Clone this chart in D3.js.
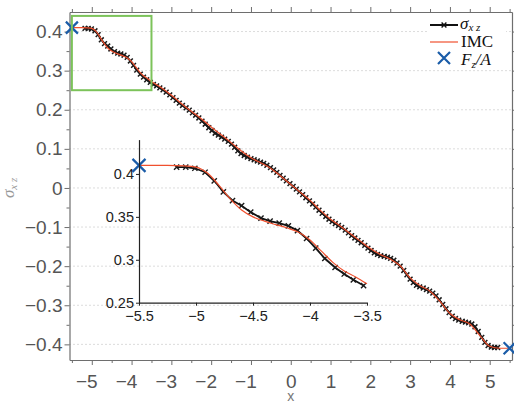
<!DOCTYPE html>
<html>
<head>
<meta charset="utf-8">
<script src="https://cdn.jsdelivr.net/npm/d3@7/dist/d3.min.js"></script>
<style>
  html, body { margin: 0; padding: 0; background: #fff; }
  svg { display: block; }
</style>
</head>
<body>
<svg id="chart" width="514" height="404"></svg>
<script>
// ---------------- DATA ----------------
const sigmaX = [
  -5.17,-5.09,-5.01,-4.92,-4.84,-4.76,-4.68,-4.60,-4.52,-4.43,-4.35,-4.27,-4.19,-4.11,-4.03,-3.95,-3.87,-3.78,-3.70,-3.62,-3.53,
  -3.45,-3.37,-3.29,-3.21,-3.13,-3.04,-2.96,-2.88,-2.80,-2.72,-2.63,-2.55,-2.47,-2.39,-2.31,-2.23,-2.15,-2.06,-1.98,-1.90,
  -1.82,-1.74,-1.66,-1.57,-1.49,-1.41,-1.33,-1.25,-1.17,-1.09,-1.00,-0.92,-0.84,-0.76,-0.68,-0.60,-0.51,-0.43,-0.35,-0.27,
  -0.19,-0.11,-0.02,0.06,0.14,0.22,0.30,0.38,0.47,0.55,0.63,0.71,0.79,0.88,0.96,1.04,1.12,1.20,1.28,1.37,1.45,1.53,1.61,
  1.69,1.77,1.86,1.94,2.02,2.10,2.18,2.26,2.35,2.43,2.51,2.59,2.67,2.75,2.84,2.92,3.00,3.08,3.16,3.24,3.33,3.41,3.49,3.57,
  3.65,3.73,3.82,3.90,3.98,4.06,4.14,4.22,4.31,4.39,4.47,4.55,4.63,4.71,4.80,4.88,4.96,5.04,5.12,5.20
];
const sigmaY = [
  0.408,0.408,0.4066,0.402,0.392,0.379,0.369,0.363,0.3555,0.3485,0.345,0.3427,0.3395,0.334,0.3248,0.3136,0.3015,0.291,0.2834,0.2767,0.270,
  0.265,0.261,0.256,0.251,0.245,0.238,0.231,0.224,0.217,0.211,0.205,0.199,0.192,0.186,0.179,0.171,0.163,0.154,0.147,0.140,
  0.135,0.130,0.125,0.119,0.112,0.104,0.095,0.088,0.083,0.079,0.075,0.072,0.069,0.066,0.063,0.058,0.052,0.046,0.040,0.032,
  0.025,0.018,0.011,0.004,-0.003,-0.010,-0.017,-0.025,-0.033,-0.041,-0.049,-0.057,-0.065,-0.073,-0.080,-0.086,-0.091,-0.096,-0.101,-0.108,-0.115,-0.122,-0.128,
  -0.134,-0.140,-0.147,-0.154,-0.160,-0.166,-0.170,-0.173,-0.175,-0.177,-0.180,-0.185,-0.192,-0.200,-0.211,-0.222,-0.233,-0.242,-0.249,-0.253,-0.256,-0.260,-0.264,-0.269,
  -0.276,-0.286,-0.298,-0.309,-0.319,-0.328,-0.334,-0.338,-0.341,-0.343,-0.345,-0.348,-0.355,-0.367,-0.382,-0.395,-0.403,-0.407,-0.408,-0.408
];
const imcX = [
  -5.50,-5.25,-5.10,-5.00,-4.90,-4.80,-4.70,-4.60,-4.50,-4.40,-4.30,-4.20,-4.10,-4.00,-3.90,-3.80,-3.70,-3.60,-3.50,
  -3.25,-3.00,-2.75,-2.50,-2.25,-2.00,-1.75,-1.50,-1.25,-1.00,-0.75,-0.50,-0.25,0.00,0.25,0.50,0.75,1.00,1.25,1.50,1.75,
  2.00,2.25,2.50,2.75,3.00,3.25,3.50,3.75,4.00,4.25,4.50,4.75,5.00,5.25,5.50
];
const imcY = [
  0.410,0.410,0.4095,0.408,0.401,0.387,0.371,0.358,0.350,0.345,0.341,0.337,0.332,0.323,0.310,0.297,0.287,0.280,0.272,
  0.256,0.237,0.216,0.196,0.177,0.156,0.136,0.116,0.095,0.077,0.064,0.050,0.030,0.009,-0.012,-0.033,-0.058,-0.080,-0.098,-0.117,-0.136,
  -0.155,-0.170,-0.182,-0.199,-0.230,-0.250,-0.264,-0.290,-0.321,-0.337,-0.348,-0.377,-0.405,-0.410,-0.410
];
const fzaX = [-5.5, 5.5];
const fzaY = [0.41, -0.41];

const xTicks = [-5,-4,-3,-2,-1,0,1,2,3,4,5];
const xMinor = [-5.5,-4.5,-3.5,-2.5,-1.5,-0.5,0.5,1.5,2.5,3.5,4.5,5.5];
const yTicks = [-0.4,-0.3,-0.2,-0.1,0,0.1,0.2,0.3,0.4];
const yMinor = [-0.35,-0.25,-0.15,-0.05,0.05,0.15,0.25,0.35];
const insetXTicks = [-5.5,-5,-4.5,-4,-3.5];
const insetYTicks = [0.25,0.3,0.35,0.4];
const zoomBoxX = [-5.5, -3.5];
const zoomBoxY = [0.25, 0.44];

// ---------------- LAYOUT ----------------
const svg = d3.select("#chart");
const sansFont = "'Liberation Sans', Arial, Helvetica, sans-serif";
const serifFont = "'Liberation Serif', 'Times New Roman', serif";
const axisGray = "#6e6e6e";
const labelGray = "#555";

const x = d3.scaleLinear().domain([-5.56, 5.56]).range([69.5, 512]);
const y = d3.scaleLinear().domain([-0.44, 0.45]).range([360, 12]);

const ix = d3.scaleLinear().domain([-5.5, -3.5]).range([139, 367]);
const iy = d3.scaleLinear().domain([0.25, 0.44]).range([302.7, 139.6]);

const fmt = v => (v < 0 ? "\u2212" : "") + String(+Math.abs(v).toFixed(2));

const sigma = sigmaX.map((d, i) => ({x: d, y: sigmaY[i]}));
const imc = imcX.map((d, i) => ({x: d, y: imcY[i]}));
const fza = fzaX.map((d, i) => ({x: d, y: fzaY[i]}));

// grid
svg.append("g").selectAll("line").data(yTicks).join("line")
  .attr("x1", x.range()[0]).attr("x2", x.range()[1])
  .attr("y1", d => y(d)).attr("y2", d => y(d))
  .attr("stroke", "#b8b8b8").attr("stroke-width", 1)
  .attr("stroke-dasharray", "1,3");

function styleAxis(g, color, fontSize, family, fill) {
  g.select(".domain").attr("stroke", color).attr("stroke-width", 1.2);
  g.selectAll(".tick line").attr("stroke", color).attr("stroke-width", 1);
  g.selectAll(".tick text").attr("font-size", fontSize).attr("font-family", family).attr("fill", fill);
}

const H = y.range()[0], T = y.range()[1], L = x.range()[0], R = x.range()[1];

// bottom
const gb = svg.append("g").attr("transform", `translate(0,${H})`)
  .call(d3.axisBottom(x).tickValues(xTicks).tickSize(5).tickSizeOuter(0).tickPadding(10).tickFormat(fmt));
styleAxis(gb, axisGray, 19, sansFont, labelGray);
gb.selectAll(".tick text").attr("text-anchor", "end").attr("x", 5.3);
svg.append("g").attr("transform", `translate(0,${H})`)
  .call(d3.axisBottom(x).tickValues(xMinor).tickSize(3).tickSizeOuter(0).tickFormat(""))
  .call(g => { g.select(".domain").remove(); g.selectAll(".tick line").attr("stroke", axisGray); });
// top
const gt = svg.append("g").attr("transform", `translate(0,${T})`)
  .call(d3.axisTop(x).tickValues(xTicks).tickSize(5).tickSizeOuter(0).tickFormat(""));
styleAxis(gt, axisGray, 18, sansFont, labelGray);
svg.append("g").attr("transform", `translate(0,${T})`)
  .call(d3.axisTop(x).tickValues(xMinor).tickSize(3).tickSizeOuter(0).tickFormat(""))
  .call(g => { g.select(".domain").remove(); g.selectAll(".tick line").attr("stroke", axisGray); });
// left
const gl = svg.append("g").attr("transform", `translate(${L},0)`)
  .call(d3.axisLeft(y).tickValues(yTicks).tickSize(5).tickSizeOuter(0).tickPadding(2).tickFormat(fmt));
styleAxis(gl, axisGray, 19, sansFont, labelGray);
svg.append("g").attr("transform", `translate(${L},0)`)
  .call(d3.axisLeft(y).tickValues(yMinor).tickSize(3).tickSizeOuter(0).tickFormat(""))
  .call(g => { g.select(".domain").remove(); g.selectAll(".tick line").attr("stroke", axisGray); });
// right
const gr = svg.append("g").attr("transform", `translate(${R},0)`)
  .call(d3.axisRight(y).tickValues(yTicks).tickSize(5).tickSizeOuter(0).tickFormat(""));
styleAxis(gr, axisGray, 18, sansFont, labelGray);
svg.append("g").attr("transform", `translate(${R},0)`)
  .call(d3.axisRight(y).tickValues(yMinor).tickSize(3).tickSizeOuter(0).tickFormat(""))
  .call(g => { g.select(".domain").remove(); g.selectAll(".tick line").attr("stroke", axisGray); });

// axis labels
svg.append("text").attr("x", x(0)).attr("y", 401).attr("text-anchor", "middle")
  .attr("font-family", sansFont).attr("font-size", 14).attr("fill", "#777").text("x");
const yl = svg.append("text").attr("transform", `translate(14,${y(0)}) rotate(-90)`)
  .attr("text-anchor", "middle").attr("font-family", serifFont).attr("font-style", "italic")
  .attr("fill", "#999");
yl.append("tspan").attr("font-size", 17).text("σ");
yl.append("tspan").attr("font-size", 11).attr("dy", 3).text("x z");

// series
const markerPath = s => `M${-s},${-s}L${s},${s}M${-s},${s}L${s},${-s}`;

function drawSeries(g, sx, sy, sigData, imcData, fzaData, lw, ms, mw, bs) {
  g.append("path").datum(sigData)
    .attr("d", d3.line().x(d => sx(d.x)).y(d => sy(d.y)))
    .attr("fill", "none").attr("stroke", "#111").attr("stroke-width", lw);
  g.append("g").selectAll("path").data(sigData).join("path")
    .attr("transform", d => `translate(${sx(d.x)},${sy(d.y)})`)
    .attr("d", markerPath(ms)).attr("stroke", "#1a1a1a").attr("stroke-width", mw).attr("fill", "none");
  g.append("path").datum(imcData)
    .attr("d", d3.line().curve(d3.curveMonotoneX).x(d => sx(d.x)).y(d => sy(d.y)))
    .attr("fill", "none").attr("stroke", "#f0502e").attr("stroke-width", 1.2);
  g.append("g").selectAll("path").data(fzaData).join("path")
    .attr("transform", d => `translate(${sx(d.x)},${sy(d.y)})`)
    .attr("d", markerPath(bs)).attr("stroke", "#1a5ca8").attr("stroke-width", 2.2).attr("fill", "none");
}

drawSeries(svg.append("g"), x, y, sigma, imc, fza, 1.8, 2.4, 1.5, 6);

// zoom box
svg.append("rect")
  .attr("x", x(zoomBoxX[0])).attr("y", y(zoomBoxY[1]))
  .attr("width", x(zoomBoxX[1]) - x(zoomBoxX[0])).attr("height", y(zoomBoxY[0]) - y(zoomBoxY[1]))
  .attr("fill", "none").attr("stroke", "#7cc35a").attr("stroke-width", 2);

// inset
const inset = svg.append("g");
const inSig = sigma.filter(d => d.x >= -5.5 && d.x <= -3.5);
const inImc = imc.filter(d => d.x >= -5.5 && d.x <= -3.5);
const inFza = fza.filter(d => d.x >= -5.5 && d.x <= -3.5);
drawSeries(inset, ix, iy, inSig, inImc, inFza, 1.8, 2.6, 1.4, 6.5);

const ib = inset.append("g").attr("transform", `translate(0,${iy.range()[0]})`)
  .call(d3.axisBottom(ix).tickValues(insetXTicks).tickSize(3).tickSizeOuter(0).tickPadding(5).tickFormat(fmt));
styleAxis(ib, "#222", 14.5, sansFont, "#222");
const il = inset.append("g").attr("transform", `translate(${ix.range()[0]},0)`)
  .call(d3.axisLeft(iy).tickValues(insetYTicks).tickSize(3).tickSizeOuter(0).tickPadding(2).tickFormat(fmt));
styleAxis(il, "#222", 14.5, sansFont, "#222");

// legend
const lg = svg.append("g");
lg.append("rect").attr("x", 428).attr("y", 15).attr("width", 78).attr("height", 54).attr("fill", "#fff");
lg.append("line").attr("x1", 430).attr("x2", 458).attr("y1", 25).attr("y2", 25)
  .attr("stroke", "#111").attr("stroke-width", 2);
lg.append("path").attr("transform", "translate(444,25)").attr("d", markerPath(2.4))
  .attr("stroke", "#111").attr("stroke-width", 1.4).attr("fill", "none");
lg.append("line").attr("x1", 430).attr("x2", 458).attr("y1", 42).attr("y2", 42)
  .attr("stroke", "#f0502e").attr("stroke-width", 1.2);
lg.append("path").attr("transform", "translate(444,58)").attr("d", markerPath(6))
  .attr("stroke", "#1a5ca8").attr("stroke-width", 2.2).attr("fill", "none");

const t1 = lg.append("text").attr("x", 460).attr("y", 29).attr("font-family", serifFont).attr("font-style", "italic").attr("fill", "#111");
t1.append("tspan").attr("font-size", 17).text("σ");
t1.append("tspan").attr("font-size", 11).attr("dy", 2).text("x z");
lg.append("text").attr("x", 461).attr("y", 47).attr("font-family", serifFont).attr("font-size", 17)
  .attr("fill", "#111").text("IMC");
const t3 = lg.append("text").attr("x", 461).attr("y", 65).attr("font-family", serifFont).attr("font-style", "italic").attr("fill", "#111");
t3.append("tspan").attr("font-size", 17).text("F");
t3.append("tspan").attr("font-size", 11).attr("dy", 3).text("z");
t3.append("tspan").attr("font-size", 17).attr("dy", -3).text("/A");
</script>
</body>
</html>
